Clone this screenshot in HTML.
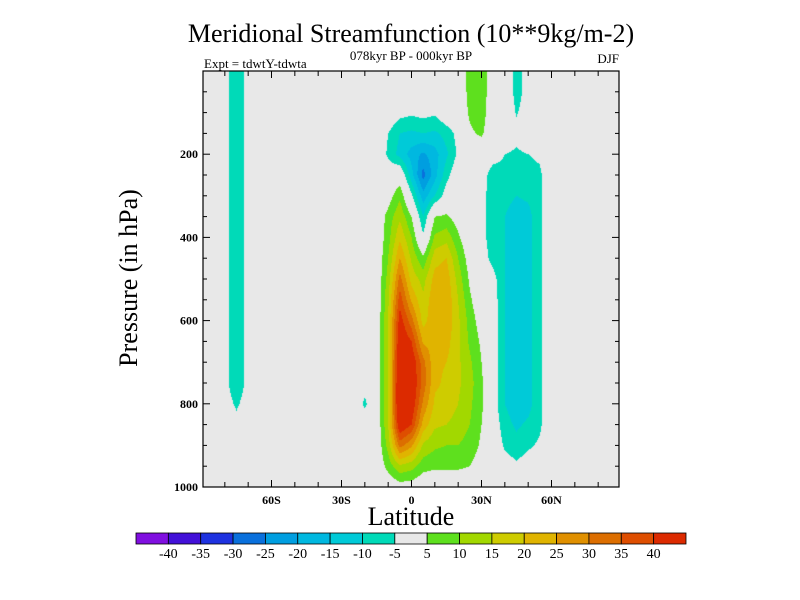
<!DOCTYPE html>
<html><head><meta charset="utf-8">
<style>
body{margin:0;background:#fff;}
#wrap{position:relative;width:800px;height:600px;overflow:hidden;background:#fff;font-family:"Liberation Serif",serif;}
canvas{position:absolute;left:203px;top:71px;}
svg{position:absolute;left:0;top:0;}
</style></head>
<body>
<div id="wrap">
<canvas id="cv" width="416" height="416"></canvas>
<svg id="sv" width="800" height="600">
<text x="411" y="42" text-anchor="middle" font-size="26">Meridional Streamfunction (10**9kg/m-2)</text>
<text x="411" y="60" text-anchor="middle" font-size="13">078kyr BP - 000kyr BP</text>
<text x="204" y="68" font-size="13">Expt = tdwtY-tdwta</text>
<text x="619" y="63" text-anchor="end" font-size="13">DJF</text>
<text x="411" y="525" text-anchor="middle" font-size="26">Latitude</text>
<text transform="translate(137,278) rotate(-90)" text-anchor="middle" font-size="26">Pressure (in hPa)</text>
<g id="axes"></g>
<g id="cbar"></g>
</svg>
</div>
<script>
const lats=[-90,-85,-80,-75,-70,-65,-60,-55,-50,-45,-40,-35,-30,-25,-20,-15,-10,-5,0,5,10,15,20,25,30,35,40,45,50,55,60,65,70,75,80,85,90];
const pres=[0,50,100,150,200,250,300,350,400,450,500,550,600,650,700,750,800,850,900,950,1000];
// rows by pressure, columns by latitude index 0..36
const psi=[
[0,0,-3,-9,-3,0,0,0,0,0,0,0,0,0,0,0,0,0,0,0,0,0,0,7,9,0,0,-7,-3,0,0,0,0,0,0,0,0],
[0,0,-3,-9,-3,0,0,0,0,0,0,0,0,0,0,0,0,0,0,0,0,0,0,7,9,0,0,-7,-3,0,0,0,0,0,0,0,0],
[0,0,-3,-9,-3,0,0,0,0,0,0,0,0,0,0,0,0,-3,-4,-3,-4,0,0,6,8,0,0,-5.5,-2,0,0,0,0,0,0,0,0],
[0,0,-3,-9,-3,0,0,0,0,0,0,0,0,0,0,0,-5,-10,-11,-10,-11,-8,-3,4,6,0,0,-3,0,0,0,0,0,0,0,0,0],
[0,0,-3,-9,-3,0,0,0,0,0,0,0,0,0,0,0,-6,-12,-17,-21,-17,-11,-4,2,0,-2,-5,-6,-5,-4,0,0,0,0,0,0,0],
[0,0,-3,-9,-3,0,0,0,0,0,0,0,0,0,0,0,-1,1,-13,-27,-17,-7,0,0,-2,-8,-7,-8,-7,-6,0,0,0,0,0,0,0],
[0,0,-3,-9,-3,0,0,0,0,0,0,0,0,0,0,0,2,9,-4,-18,-10,-2,0,0,-3,-8,-8,-10,-9,-6,0,0,0,0,0,0,0],
[0,0,-3,-9,-3,0,0,0,0,0,0,0,0,0,0,0,7,14,5,-10,5,6,2,0,-3,-8,-10,-13,-12,-6,0,0,0,0,0,0,0],
[0,0,-3,-9,-3,0,0,0,0,0,0,0,0,0,0,0,8,19,10,-4,11,13,6,0,-3,-8,-10,-13,-12,-6,0,0,0,0,0,0,0],
[0,0,-3,-9,-3,0,0,0,0,0,0,0,0,0,0,0,10,25,14,6,18,20,10,2,-2,-7,-10,-13,-12,-6,0,0,0,0,0,0,0],
[0,0,-3,-9,-3,0,0,0,0,0,0,0,0,0,0,0,12,32,18,13,22,23,13,4,0,-3,-10,-13,-12,-6,0,0,0,0,0,0,0],
[0,0,-3,-9,-3,0,0,0,0,0,0,0,0,0,0,0,14,38,24,16,24,24,15,6,0,-2,-10,-13,-12,-6,0,0,0,0,0,0,0],
[0,0,-3,-9,-3,0,0,0,0,0,0,0,0,0,0,0,15,43,32,18,24,24,16,8,2,-2,-10,-13,-12,-6,0,0,0,0,0,0,0],
[0,0,-3,-9,-3,0,0,0,0,0,0,0,0,0,0,0,15,46,40,24,23,22,16,9,4,-2,-10,-13,-12,-6,0,0,0,0,0,0,0],
[0,0,-3,-9,-3,0,0,0,0,0,0,0,0,0,0,0,15,48,45,32,21,20,16,11,5,-2,-10,-13,-12,-6,0,0,0,0,0,0,0],
[0,0,-3,-9,-3,0,0,0,0,0,0,0,0,0,-3,0,15,50,46,33,21,19,16,12,6,-2,-10,-13,-12,-6,0,0,0,0,0,0,0],
[0,0,-2,-6,-2,0,0,0,0,0,0,0,0,0,-6,0,15,50,45,29,19,18,15,11,6,-2,-10,-13,-12,-6,0,0,0,0,0,0,0],
[0,0,0,-3,0,0,0,0,0,0,0,0,0,0,-2,0,15,46,40,23,16,15,13,10,5,-1,-8,-11,-9,-6,0,0,0,0,0,0,0],
[0,0,0,0,0,0,0,0,0,0,0,0,0,0,0,0,12,32,26,14,11,10,10,8,4,0,-6,-8,-6,-4,0,0,0,0,0,0,0],
[0,0,0,0,0,0,0,0,0,0,0,0,0,0,0,0,7,14,12,7,6,6,6,5,2,0,-2,-4,-2,0,0,0,0,0,0,0,0],
[0,0,0,0,0,0,0,0,0,0,0,0,0,0,0,0,0,2,2,0,0,0,0,0,0,0,0,0,0,0,0,0,0,0,0,0,0]
];
const levels=[-40,-35,-30,-25,-20,-15,-10,-5,5,10,15,20,25,30,35,40];
const levelLabels=["-40","-35","-30","-25","-20","-15","-10","-5","5","10","15","20","25","30","35","40"];
const fills=["#800fe0","#4210d8","#1e32e0","#0a70dc","#009ee0","#00b8e0","#00cad8","#00dab8","#e8e8e8","#5ee01e","#a2d800","#cecc00","#e0b400","#e09000","#dc6e00","#de4e00","#dc2a00"];
const pTicks=[200,400,600,800,1000];
const pTickLabels=["200","400","600","800","1000"];
const latTicks=[-60,-30,0,30,60];
const latTickLabels=["60S","30S","0","30N","60N"];

const X0=203,X1=619,Y0=71,Y1=487;
function xOf(lat){return 411.5+lat*70/30;}
function latOf(x){return (x-411.5)*30/70;}
function yOf(p){return Y0+(p/1000)*(Y1-Y0);}
function pOf(y){return (y-Y0)/(Y1-Y0)*1000;}
function band(v){let k=0;while(k<levels.length&&v>=levels[k])k++;return k;}
function interp(lat,p){
  const dl=lats[1]-lats[0],dp=pres[1]-pres[0];
  let fx=(lat-lats[0])/dl,fy=(p-pres[0])/dp;
  fx=Math.max(0,Math.min(lats.length-1.0001,fx));fy=Math.max(0,Math.min(pres.length-1.0001,fy));
  const i=Math.floor(fx),j=Math.floor(fy),tx=fx-i,ty=fy-j;
  const a=psi[j][i],b=psi[j][i+1],c=psi[j+1][i],d=psi[j+1][i+1];
  return (a*(1-tx)+b*tx)*(1-ty)+(c*(1-tx)+d*tx)*ty;
}
const cv=document.getElementById('cv'),ctx=cv.getContext('2d');
const img=ctx.createImageData(416,416);
const rgb=fills.map(h=>[parseInt(h.substr(1,2),16),parseInt(h.substr(3,2),16),parseInt(h.substr(5,2),16)]);
for(let py=0;py<416;py++){for(let px=0;px<416;px++){
  const v=interp(latOf(X0+px+0.5),pOf(Y0+py+0.5));const c=rgb[band(v)];const o=(py*416+px)*4;
  img.data[o]=c[0];img.data[o+1]=c[1];img.data[o+2]=c[2];img.data[o+3]=255;}}
ctx.putImageData(img,0,0);

const NS='http://www.w3.org/2000/svg';
function mk(tag,attrs,parent){const e=document.createElementNS(NS,tag);for(const k in attrs)e.setAttribute(k,attrs[k]);parent.appendChild(e);return e;}
const ax=document.getElementById('axes');
const frame=mk('rect',{x:X0,y:Y0,width:X1-X0,height:Y1-Y0,fill:'none',stroke:'#000','stroke-width':1.2},ax);


for(let p=50;p<1000;p+=50){
  const y=yOf(p),L=(p%200===0)?7:4;
  const t1=mk('line',{x1:X0,x2:X0+L,y1:y,y2:y,stroke:'#000'},ax);
  
  
  const t2=mk('line',{x1:X1,x2:X1-L,y1:y,y2:y,stroke:'#000'},ax);
  
  
}
pTicks.forEach((p,k)=>{
  const t=mk('text',{x:X0-5,y:yOf(p)+4,'text-anchor':'end','font-size':12,'font-weight':'bold'},ax);
  t.textContent=pTickLabels[k];
  
  
});
for(let l=-80;l<=80;l+=10){
  const x=xOf(l),L=(l%30===0)?7:5;
  const t1=mk('line',{x1:x,x2:x,y1:Y1,y2:Y1-L,stroke:'#000'},ax);
  
  
  const t2=mk('line',{x1:x,x2:x,y1:Y0,y2:Y0+L,stroke:'#000'},ax);
  
  
}
latTicks.forEach((l,k)=>{
  const t=mk('text',{x:xOf(l),y:504,'text-anchor':'middle','font-size':12,'font-weight':'bold'},ax);
  t.textContent=latTickLabels[k];
  
  
});
const cb=document.getElementById('cbar');
const CB0=136,CB1=686,CBY=533,CBH=11,bw=(CB1-CB0)/fills.length;
fills.forEach((f,k)=>{
  const r=mk('rect',{x:CB0+k*bw,y:CBY,width:bw,height:CBH,fill:f,stroke:'#000','stroke-width':0.8},cb);
  
  
});
levelLabels.forEach((s,k)=>{
  const t=mk('text',{x:CB0+(k+1)*bw,y:558,'text-anchor':'middle','font-size':14},cb);
  t.textContent=s;
  
  
});
</script>
</body></html>
